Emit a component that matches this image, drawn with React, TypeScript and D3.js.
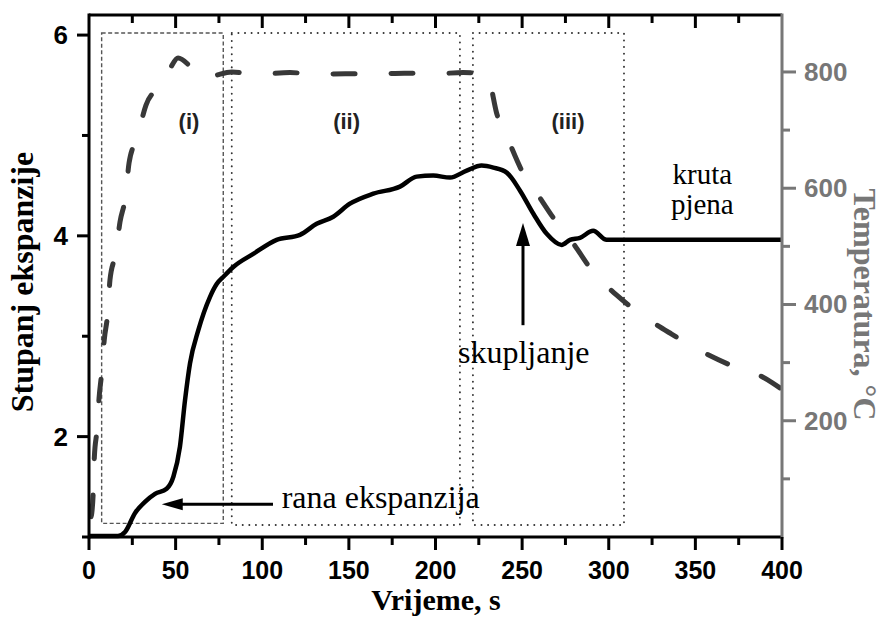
import React from "react";
import * as d3 from "d3";

// ---- data ----
const expTime = [0, 16.7, 20.8, 26.6, 32.3, 38.1, 44.8, 48.7, 52.5, 55.4, 58.3, 63.1, 69.8, 73.7, 78, 83.3, 94.8, 108.3, 121.8, 131.4, 141, 150.6, 164.1, 179.5, 189.1, 198.7, 208.4, 218, 226.6, 233.4, 241.1, 248.8, 256.5, 264.2, 272.8, 277.6, 283.4, 291, 298.8, 400];
const expValue = [1.01, 1.01, 1.05, 1.24, 1.35, 1.43, 1.48, 1.6, 1.9, 2.36, 2.73, 3.06, 3.39, 3.52, 3.6, 3.69, 3.82, 3.96, 4.01, 4.12, 4.19, 4.32, 4.42, 4.49, 4.59, 4.6, 4.58, 4.65, 4.7, 4.68, 4.63, 4.45, 4.22, 4.02, 3.91, 3.96, 3.98, 4.05, 3.96, 3.96];

const tempTime = [1.2, 1.6, 2.5, 3.1, 4.6, 5.8, 7.3, 8.8, 10.8, 12.1, 15.4, 17.9, 21.2, 23.1, 27.9, 32.9, 42, 46.8, 51.4, 58.3, 64.1, 71, 82.4, 97.7, 116, 131, 148, 166, 182, 200, 216, 226, 229, 231, 235.3, 242, 249.7, 258.4, 269, 279.5, 291, 304.6, 321, 336.3, 353.7, 370, 388.3, 394, 399];
const tempValue = [35, 41, 81, 138, 184, 239, 282, 339, 385, 442, 488, 542, 588, 643, 688, 743, 780, 806, 824, 810, 791, 793, 800, 796, 799, 796, 797, 797, 798, 797, 799, 798, 795, 786, 729, 683, 631, 592, 545, 505, 456, 416, 378, 349, 319, 296, 276, 266, 256];

const xMajorTicks = [0, 50, 100, 150, 200, 250, 300, 350, 400];
const xMinorTicks = [25, 75, 125, 175, 225, 275, 325, 375];
const leftMajorTicks = [2, 4, 6];
const leftMinorTicks = [1, 3, 5];
const rightMajorTicks = [200, 400, 600, 800];
const rightMinorTicks = [100, 300, 500, 700];

const regionLabels = ["(i)", "(ii)", "(iii)"];
const regionStart = [7.3, 82.4, 221.6];
const regionEnd = [77.5, 214.1, 308.8];
const regionTop = [6.02, 6.02, 6.02];
const regionBottom = [1.136, 1.12, 1.12];
const regionLabelTime = [57.7, 148.7, 276.5];

const xTitle = "Vrijeme, s";
const leftTitle = "Stupanj ekspanzije";
const rightTitle = "Temperatura, °C";

export default function App() {
  const W = 885, H = 618;
  const x = d3.scaleLinear().domain([0, 400]).range([89, 782]);
  const yL = d3.scaleLinear().domain([1, 6.2]).range([537, 15]);
  const yR = d3.scaleLinear().domain([0, 898]).range([537, 15]);

  const expData = expTime.map((t, i) => [t, expValue[i]] as [number, number]);
  const tempData = tempTime.map((t, i) => [t, tempValue[i]] as [number, number]);

  const expLine = d3.line<[number, number]>().x(d => x(d[0])).y(d => yL(d[1])).curve(d3.curveMonotoneX);
  const tempLine = d3.line<[number, number]>().x(d => x(d[0])).y(d => yR(d[1])).curve(d3.curveMonotoneX);

  const sans = "'Liberation Sans', Arial, Helvetica, sans-serif";
  const serif = "'Liberation Serif', 'Times New Roman', Times, serif";
  const gray = "#777";
  const [x0, x1] = x.range();
  const yTop = 15, yBot = 537;

  const ranaTip = [x(42), yL(1.326)];
  const ranaEnd = x(106.2);
  const skupX = x(250.5);
  const skupTip = yL(4.127);
  const skupEnd = yL(3.11);

  return (
    <svg width={W} height={H} style={{ position: "absolute", left: 0, top: 0, background: "#fff" }}>
      <rect x={0} y={0} width={W} height={H} fill="#fff" />

      {/* region boxes */}
      {regionLabels.map((lab, i) => (
        <g key={lab}>
          <rect
            x={x(regionStart[i])}
            y={yL(regionTop[i])}
            width={x(regionEnd[i]) - x(regionStart[i])}
            height={yL(regionBottom[i]) - yL(regionTop[i])}
            fill="none"
            stroke={i === 0 ? "#555" : "#333"}
            strokeWidth={i === 0 ? 1.4 : 1.9}
            strokeDasharray={i === 0 ? "4,2.5" : "0.1,6.5"}
            strokeLinecap={i === 0 ? "butt" : "round"}
          />
          <text
            x={x(regionLabelTime[i])}
            y={yL(5.14)}
            textAnchor="middle"
            dominantBaseline="central"
            fontFamily={sans}
            fontWeight="bold"
            fontSize={22}
            fill="#222"
          >
            {lab}
          </text>
        </g>
      ))}

      {/* temperature dashed line */}
      <path
        d={tempLine(tempData) || ""}
        fill="none"
        stroke="#383838"
        strokeWidth={5}
        strokeDasharray="22,36"
        strokeLinecap="round"
        strokeLinejoin="round"
      />

      {/* expansion line */}
      <path d={expLine(expData) || ""} fill="none" stroke="#000" strokeWidth={4.5} strokeLinejoin="round" />

      {/* axes frame */}
      <line x1={x0} x2={x1} y1={yTop} y2={yTop} stroke="#000" strokeWidth={3} />
      <line x1={x0} x2={x1} y1={yBot} y2={yBot} stroke="#000" strokeWidth={3} />
      <line x1={x0} x2={x0} y1={yTop - 1.5} y2={yBot + 1.5} stroke="#000" strokeWidth={3} />
      <line x1={x1} x2={x1} y1={yTop - 1.5} y2={yBot + 1.5} stroke={gray} strokeWidth={3} />

      {/* bottom ticks */}
      {xMajorTicks.map(t => (
        <g key={"xb" + t}>
          <line x1={x(t)} x2={x(t)} y1={yBot} y2={yBot + 13} stroke="#000" strokeWidth={3} />
          <text x={x(t)} y={579} textAnchor="middle" fontFamily={sans} fontWeight="bold" fontSize={25} fill="#000">
            {t}
          </text>
        </g>
      ))}
      {xMinorTicks.map(t => (
        <line key={"xbm" + t} x1={x(t)} x2={x(t)} y1={yBot} y2={yBot + 8} stroke="#000" strokeWidth={3} />
      ))}
      {/* top ticks (inward) */}
      {xMajorTicks.filter(t => t > 0 && t < 400).map(t => (
        <line key={"xt" + t} x1={x(t)} x2={x(t)} y1={yTop} y2={yTop + 13} stroke="#000" strokeWidth={3} />
      ))}
      {xMinorTicks.map(t => (
        <line key={"xtm" + t} x1={x(t)} x2={x(t)} y1={yTop} y2={yTop + 8} stroke="#000" strokeWidth={3} />
      ))}

      {/* left ticks */}
      {leftMajorTicks.map(v => (
        <g key={"yl" + v}>
          <line x1={x0 - 12} x2={x0} y1={yL(v)} y2={yL(v)} stroke="#000" strokeWidth={3} />
          <text x={68} y={yL(v)} textAnchor="end" dominantBaseline="central" fontFamily={sans} fontWeight="bold" fontSize={26} fill="#000">
            {v}
          </text>
        </g>
      ))}
      {leftMinorTicks.map(v => (
        <line key={"ylm" + v} x1={x0 - 7} x2={x0} y1={yL(v)} y2={yL(v)} stroke="#000" strokeWidth={3} />
      ))}

      {/* right ticks */}
      {rightMajorTicks.map(v => (
        <g key={"yr" + v}>
          <line x1={x1} x2={x1 + 14} y1={yR(v)} y2={yR(v)} stroke={gray} strokeWidth={3} />
          <text x={804} y={yR(v)} textAnchor="start" dominantBaseline="central" fontFamily={sans} fontWeight="bold" fontSize={26} fill={gray}>
            {v}
          </text>
        </g>
      ))}
      {rightMinorTicks.map(v => (
        <line key={"yrm" + v} x1={x1} x2={x1 + 8} y1={yR(v)} y2={yR(v)} stroke={gray} strokeWidth={3} />
      ))}

      {/* axis titles */}
      <text x={436} y={610} textAnchor="middle" fontFamily={serif} fontWeight="bold" fontSize={30} fill="#000">
        {xTitle}
      </text>
      <text
        transform={`translate(33, ${yL(3.54)}) rotate(-90)`}
        textAnchor="middle"
        fontFamily={serif}
        fontWeight="bold"
        fontSize={32}
        fill="#000"
      >
        {leftTitle}
      </text>
      <text
        transform={`translate(854, ${yR(400)}) rotate(90)`}
        textAnchor="middle"
        fontFamily={serif}
        fontWeight="bold"
        fontSize={32}
        fill={gray}
      >
        {rightTitle}
      </text>

      {/* rana ekspanzija arrow */}
      <line x1={ranaEnd} x2={ranaTip[0] + 18} y1={ranaTip[1]} y2={ranaTip[1]} stroke="#000" strokeWidth={3} />
      <path
        d={`M${ranaTip[0]},${ranaTip[1]} L${ranaTip[0] + 21},${ranaTip[1] - 6} L${ranaTip[0] + 21},${ranaTip[1] + 6} Z`}
        fill="#000"
      />
      <text x={x(111.2)} y={yL(1.286)} fontFamily={serif} fontSize={32} fill="#000">
        rana ekspanzija
      </text>

      {/* skupljanje arrow */}
      <line x1={skupX} x2={skupX} y1={skupEnd} y2={skupTip + 20} stroke="#000" strokeWidth={3} />
      <path
        d={`M${skupX},${skupTip} L${skupX - 7},${skupTip + 23} L${skupX + 7},${skupTip + 23} Z`}
        fill="#000"
      />
      <text x={x(213)} y={yL(2.733)} fontFamily={serif} fontSize={32} fill="#000">
        skupljanje
      </text>

      {/* kruta pjena */}
      <text x={x(354)} y={yL(4.52)} textAnchor="middle" fontFamily={serif} fontSize={29} fill="#000">
        kruta
      </text>
      <text x={x(354)} y={yL(4.22)} textAnchor="middle" fontFamily={serif} fontSize={29} fill="#000">
        pjena
      </text>
    </svg>
  );
}
